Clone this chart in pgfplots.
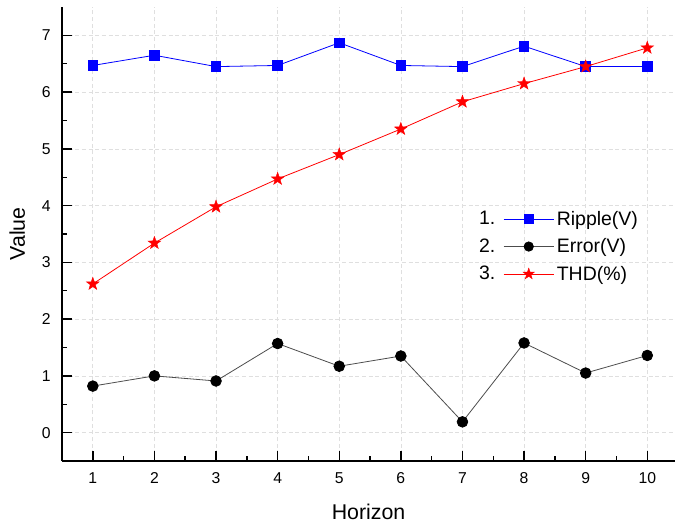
\documentclass[border=0pt]{standalone}
\usepackage{fontspec}
\setmainfont{Liberation Sans}
\usepackage{pgfplots}
\pgfplotsset{compat=1.18}

% filled five-pointed star
\pgfdeclareplotmark{fivestar}{%
  \pgfpathmoveto{\pgfpointpolar{90}{\pgfplotmarksize}}%
  \pgfpathlineto{\pgfpointpolar{126}{0.4\pgfplotmarksize}}%
  \pgfpathlineto{\pgfpointpolar{162}{\pgfplotmarksize}}%
  \pgfpathlineto{\pgfpointpolar{198}{0.4\pgfplotmarksize}}%
  \pgfpathlineto{\pgfpointpolar{234}{\pgfplotmarksize}}%
  \pgfpathlineto{\pgfpointpolar{270}{0.4\pgfplotmarksize}}%
  \pgfpathlineto{\pgfpointpolar{306}{\pgfplotmarksize}}%
  \pgfpathlineto{\pgfpointpolar{342}{0.4\pgfplotmarksize}}%
  \pgfpathlineto{\pgfpointpolar{18}{\pgfplotmarksize}}%
  \pgfpathlineto{\pgfpointpolar{54}{0.4\pgfplotmarksize}}%
  \pgfpathclose
  \pgfusepathqfillstroke
}

% legend image preceded by its entry number
\pgfplotsset{
  numlegend/.style n args={2}{legend image code/.code={%
    \node[anchor=east,inner sep=0pt,text=black,font=\fontsize{14.6}{16}\selectfont] at (-6pt,0pt) {#1};
    \draw[mark repeat=2,mark phase=2,##1,mark size=#2] plot coordinates {(0pt,0pt) (18.75pt,0pt) (37.5pt,0pt)};}},
}

\begin{document}
\begin{tikzpicture}
\path[use as bounding box] (0,0) rectangle (506.25pt,396.75pt);
\begin{axis}[
  at={(46.5pt,51pt)}, anchor=south west,
  scale only axis, width=459.75pt, height=340.5pt,
  xmin=0.5, xmax=10.45, ymin=-0.5, ymax=7.5,
  axis lines*=left,
  axis line style={line width=1.1pt, black},
  xtick={1,...,10}, ytick={0,...,7},
  minor x tick num=1, minor y tick num=1,
  tick align=inside,
  major tick length=7.5pt, minor tick length=4pt,
  tick style={line width=1.1pt, black},
  grid=major,
  major grid style={densely dashed, gray!25, line width=0.5pt},
  /pgf/number format/assume math mode=true,
  ticklabel style={font=\fontsize{11.8}{13}\selectfont},
  xticklabel style={yshift=-5pt},
  yticklabel style={xshift=-5pt},
  xlabel={Horizon}, ylabel={Value},
  label style={font=\fontsize{16}{18}\selectfont},
  xlabel style={at={(axis description cs:0.5,-0.112)}, anchor=center},
  ylabel style={at={(axis description cs:-0.073,0.5)}, anchor=center},
  legend style={at={(axis description cs:0.68,0.557)}, anchor=north west,
    draw=none, fill=none, inner sep=0pt, row sep=4.5pt,
    font=\fontsize{14.6}{16}\selectfont,
    nodes={inner sep=2pt, anchor=west}},
  legend cell align=left,
]
\addplot[blue, line width=0.6pt, mark=square*, mark size=3.6pt,
  mark options={solid, fill=blue}, numlegend={1.}{3.2pt}]
  coordinates {(1,6.47) (2,6.65) (3,6.45) (4,6.47) (5,6.87) (6,6.47) (7,6.45) (8,6.81) (9,6.45) (10,6.45)};
\addlegendentry{Ripple(V)}
\addplot[black!70, line width=0.6pt, mark=*, mark size=4pt,
  mark options={solid, fill=black, draw=black}, numlegend={2.}{3.5pt}]
  coordinates {(1,0.82) (2,1.00) (3,0.91) (4,1.57) (5,1.17) (6,1.35) (7,0.19) (8,1.58) (9,1.05) (10,1.36)};
\addlegendentry{Error(V)}
\addplot[red, line width=0.6pt, mark=fivestar, mark size=5pt,
  mark options={solid, fill=red, draw=red, line width=0.3pt}, numlegend={3.}{4.4pt}]
  coordinates {(1,2.62) (2,3.34) (3,3.98) (4,4.47) (5,4.90) (6,5.35) (7,5.83) (8,6.15) (9,6.45) (10,6.78)};
\addlegendentry{THD(\%)}
\end{axis}
\end{tikzpicture}
\end{document}
